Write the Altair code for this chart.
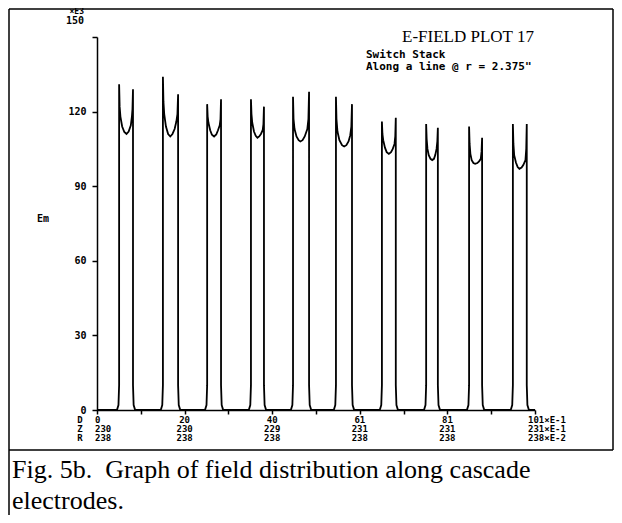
import altair as alt
import pandas as pd

# ---- data: D (x E-1) and Em (x E3), gap by gap ----
gap1_x = [4.6, 4.95, 5.1, 5.1, 5.22, 5.4, 5.8, 6.3, 6.8, 7.3, 7.8, 8.05, 8.18, 8.3, 8.3, 8.45, 8.8]
gap1_y = [0, 2, 10, 131, 122, 118, 114, 111.8, 111, 112, 114.5, 118, 121, 129, 10, 2, 0]
gap2_x = [14.7, 15.05, 15.2, 15.2, 15.32, 15.5, 15.9, 16.4, 16.9, 17.4, 17.9, 18.3, 18.55, 18.7, 18.7, 18.85, 19.2]
gap2_y = [0, 2, 10, 134, 124, 119, 114, 111, 110, 111, 113, 116, 119, 127, 10, 2, 0]
gap3_x = [24.9, 25.25, 25.4, 25.4, 25.52, 25.7, 26.1, 26.5, 27.0, 27.5, 27.9, 28.3, 28.48, 28.6, 28.6, 28.75, 29.1]
gap3_y = [0, 2, 10, 123, 118, 115.5, 112.5, 110.7, 110, 110.8, 112.5, 114.5, 117, 125, 10, 2, 0]
gap4_x = [35.0, 35.35, 35.5, 35.5, 35.62, 35.8, 36.2, 36.6, 37.0, 37.4, 37.8, 38.2, 38.38, 38.5, 38.5, 38.65, 39.0]
gap4_y = [0, 2, 10, 125, 119, 115.5, 112, 110.3, 109.5, 110, 111, 112.5, 115, 122, 10, 2, 0]
gap5_x = [44.7, 45.05, 45.2, 45.2, 45.32, 45.55, 46.0, 46.5, 46.9, 47.4, 47.9, 48.5, 48.75, 48.9, 48.9, 49.05, 49.4]
gap5_y = [0, 2, 10, 126, 117, 113, 110, 108.5, 108, 108.5, 110, 113, 117, 128, 10, 2, 0]
gap6_x = [54.6, 54.95, 55.1, 55.1, 55.22, 55.45, 55.9, 56.5, 57.0, 57.5, 58.0, 58.4, 58.65, 58.8, 58.8, 58.95, 59.3]
gap6_y = [0, 2, 10, 126, 117, 112, 108.5, 106.5, 106, 106.5, 108, 110.5, 114, 123, 10, 2, 0]
gap7_x = [65.2, 65.55, 65.7, 65.7, 65.82, 66.0, 66.4, 66.8, 67.3, 67.8, 68.2, 68.6, 68.78, 68.9, 68.9, 69.05, 69.4]
gap7_y = [0, 2, 10, 116, 111, 108.5, 105.5, 103.7, 103, 103.7, 105, 107, 110, 117.5, 10, 2, 0]
gap8_x = [75.4, 75.75, 75.9, 75.9, 76.02, 76.2, 76.5, 76.9, 77.3, 77.7, 78.0, 78.3, 78.48, 78.6, 78.6, 78.75, 79.1]
gap8_y = [0, 2, 10, 115, 109, 105, 102.5, 101, 100.5, 101, 102.5, 105, 108, 113.5, 10, 2, 0]
gap9_x = [85.3, 85.65, 85.8, 85.8, 85.92, 86.1, 86.4, 86.8, 87.2, 87.7, 88.1, 88.5, 88.68, 88.8, 88.8, 88.95, 89.3]
gap9_y = [0, 2, 10, 114, 107, 103, 100.5, 99.3, 99, 99.3, 100, 101, 104, 109.5, 10, 2, 0]
gap10_x = [95.4, 95.75, 95.9, 95.9, 96.02, 96.2, 96.6, 97.0, 97.4, 97.9, 98.3, 98.8, 98.98, 99.1, 99.1, 99.25, 99.6]
gap10_y = [0, 2, 10, 115, 107, 102.5, 99.5, 97.7, 97, 97.5, 98.5, 100.5, 105, 115, 10, 2, 0]

line_start = (0, 0)
line_end = (101, 0)

x_ticks = [0, 10.1, 20.2, 30.3, 40.4, 50.5, 60.6, 70.7, 80.8, 90.9, 101]
x_label_pos = [20.2, 40.4, 60.6, 80.8]
x_row1 = ["20", "40", "61", "81"]
x_row2 = ["230", "229", "231", "231"]
x_row3 = ["238", "238", "238", "238"]
first_rows = ["0", "230", "238"]
last_rows = ["101×E-1", "231×E-1", "238×E-2"]
row_names = ["D", "Z", "R"]
y_ticks = [0, 15, 30, 45, 60, 75, 90, 105, 120, 135, 150]

# ---- build the table ----
xs, ys = [line_start[0]], [line_start[1]]
for gx, gy in [(gap1_x, gap1_y), (gap2_x, gap2_y), (gap3_x, gap3_y), (gap4_x, gap4_y),
               (gap5_x, gap5_y), (gap6_x, gap6_y), (gap7_x, gap7_y), (gap8_x, gap8_y),
               (gap9_x, gap9_y), (gap10_x, gap10_y)]:
    xs += gx
    ys += gy
xs.append(line_end[0])
ys.append(line_end[1])
df = pd.DataFrame({"d": xs, "em": ys, "i": list(range(len(xs)))})

MONO = "DejaVu Sans Mono"
SERIF = "Liberation Serif"
W, H = 438, 373

xscale = alt.Scale(domain=[0, 101], nice=False, zero=False)
yscale = alt.Scale(domain=[0, 150], nice=False)

line = alt.Chart(df).mark_line(color="black", strokeWidth=1.8).encode(
    x=alt.X("d:Q", scale=xscale, axis=alt.Axis(
        values=x_ticks, labels=False, tickSize=4, tickColor="black", tickWidth=1.5,
        domainColor="black", domainWidth=1.5, grid=False, title=None)),
    y=alt.Y("em:Q", scale=yscale, axis=alt.Axis(
        values=y_ticks,
        labelExpr="datum.value % 30 === 0 && datum.value < 150 ? datum.label : ''",
        tickSize=5, tickColor="black", tickWidth=1.5, domainColor="black", domainWidth=1.5,
        labelFont=MONO, labelFontSize=10, labelFontWeight="bold", labelColor="black",
        labelPadding=6, grid=False, title=None)),
    order="i:Q",
)

def xrow(pos, labels, yv, align="center", dx=0):
    d = pd.DataFrame({"p": pos, "t": labels})
    return alt.Chart(d).mark_text(font=MONO, fontSize=9, fontWeight="bold", color="black",
                                  align=align, baseline="middle", dx=dx).encode(
        x=alt.X("p:Q", scale=xscale), y=alt.value(yv), text="t:N")

rows_y = [H + 10, H + 19, H + 28]
xlabels = []
for lab, yv in zip([x_row1, x_row2, x_row3], rows_y):
    xlabels.append(xrow(x_label_pos, lab, yv))
for t, yv in zip(first_rows, rows_y):
    xlabels.append(xrow([0], [t], yv, align="left", dx=-2))
for t, yv in zip(last_rows, rows_y):
    xlabels.append(xrow([101], [t], yv, align="left", dx=-7))

one = pd.DataFrame({"a": [0]})

def txt(text, x, y, font=MONO, size=10, weight="bold", align="left", baseline="middle"):
    return alt.Chart(one).mark_text(font=font, fontSize=size, fontWeight=weight, color="black",
                                    align=align, baseline=baseline).encode(
        x=alt.value(x), y=alt.value(y), text=alt.value(text))

names = [txt(n, -17, yv, size=9, align="center") for n, yv in zip(row_names, rows_y)]

top150 = alt.Chart(pd.DataFrame({"v": [150], "t": ["150"]})).mark_text(
    font=MONO, fontSize=10, fontWeight="bold", color="black", align="right",
    baseline="middle", dy=-16).encode(x=alt.value(-13), y=alt.Y("v:Q", scale=yscale), text="t:N")

texts = [
    txt("×E3", -13, -25, size=8, align="right"),
    txt("Em", -54, 182, align="center"),
    txt("E-FIELD PLOT 17", 371, 0, font=SERIF, size=17, weight="normal", align="center"),
    txt("Switch Stack", 269, 18, size=11),
    txt("Along a line  @ r = 2.375\"", 269, 30, size=11),
    txt("Fig. 5b.\u00a0 Graph of field distribution along cascade", -85, 441, font=SERIF, size=26,
        weight="normal", baseline="alphabetic"),
    txt("electrodes.", -85, 472, font=SERIF, size=26, weight="normal", baseline="alphabetic"),
]

def rule(x1, x2, y1, y2):
    return alt.Chart(one).mark_rule(color="black", strokeWidth=1.5).encode(
        x=alt.value(x1), x2=alt.value(x2), y=alt.value(y1), y2=alt.value(y2))

borders = [
    rule(-88, -88, -28, 485),
    rule(-88, 516, -28, -28),
    rule(516, 516, -28, 413),
    rule(-88, 516, 413, 413),
]

chart = alt.layer(line, top150, *xlabels, *names, *texts, *borders).properties(
    width=W, height=H,
    padding={"left": 89, "top": 29, "right": 79, "bottom": 105},
    autosize=alt.AutoSizeParams(type="none"),
    background="white",
).configure_view(stroke=None)

chart.save("out.html", embed_options={"renderer": "svg", "actions": False})
